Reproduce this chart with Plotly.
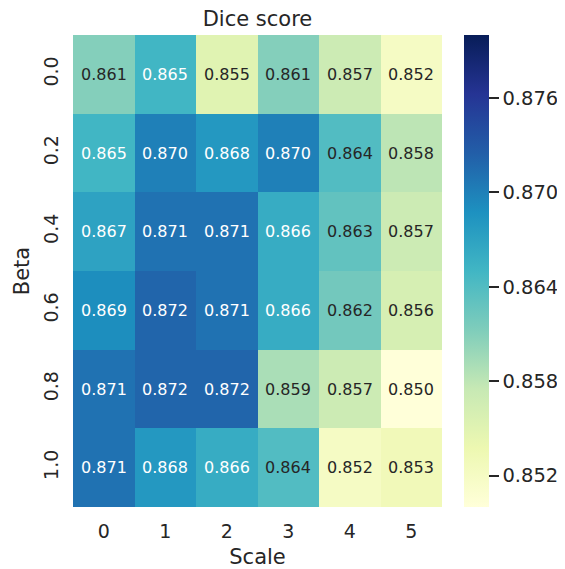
import plotly.graph_objects as go

scales = ["0", "1", "2", "3", "4", "5"]
betas = ["0.0", "0.2", "0.4", "0.6", "0.8", "1.0"]
dice = [
    [0.861, 0.865, 0.855, 0.861, 0.857, 0.852],
    [0.865, 0.870, 0.868, 0.870, 0.864, 0.858],
    [0.867, 0.871, 0.871, 0.866, 0.863, 0.857],
    [0.869, 0.872, 0.871, 0.866, 0.862, 0.856],
    [0.871, 0.872, 0.872, 0.859, 0.857, 0.850],
    [0.871, 0.868, 0.866, 0.864, 0.852, 0.853],
]
cbar_ticks = [0.852, 0.858, 0.864, 0.870, 0.876]

ylgnbu = ['rgb(255,255,217)', 'rgb(237,248,177)', 'rgb(199,233,180)',
          'rgb(127,205,187)', 'rgb(65,182,196)', 'rgb(29,145,192)',
          'rgb(34,94,168)', 'rgb(37,52,148)', 'rgb(8,29,88)']
cs = [[i / (len(ylgnbu) - 1), c] for i, c in enumerate(ylgnbu)]

FONT = "DejaVu Sans"
DARK = "#262626"
OFF = 8  # page body margin

W, H = 565, 569
L, T, R, B = 73 - OFF, 35 - OFF, 123 + OFF, 62 + OFF

fig = go.Figure()
fig.add_trace(go.Heatmap(
    z=dice, x=scales, y=betas, colorscale=cs, zmin=0.85, zmax=0.88,
    showscale=True, hoverinfo="skip",
    colorbar=dict(
        thickness=25, len=1, lenmode="fraction", x=(464 - 73) / 369, xanchor="left",
        y=0.5, yanchor="middle", outlinewidth=0, xpad=0, ypad=0,
        tickvals=cbar_ticks, ticktext=[f"{v:.3f}" for v in cbar_ticks],
        ticks="outside", ticklen=10, tickwidth=1.5, tickcolor=DARK,
        tickfont=dict(family=FONT, size=19.5, color=DARK),
    ),
))

for i, b in enumerate(betas):
    for j, s in enumerate(scales):
        v = dice[i][j]
        fig.add_annotation(
            x=j, y=i, text=f"{v:.3f}", showarrow=False,
            font=dict(family=FONT, size=16,
                      color="white" if v >= 0.8645 else DARK),
        )

fig.update_layout(
    width=W, height=H,
    margin=dict(l=L, r=R, t=T, b=B, autoexpand=False),
    paper_bgcolor="white", plot_bgcolor="white",
    title=dict(text="Dice score", x=(257.5 - OFF) / W, xanchor="center",
               y=1, yref="container", yanchor="top", pad=dict(t=3),
               font=dict(family=FONT, size=21, color=DARK)),
    xaxis=dict(type="category", automargin=False,
               title=dict(text="Scale", font=dict(family=FONT, size=21, color=DARK),
                          standoff=8),
               tickfont=dict(family=FONT, size=19, color=DARK),
               showgrid=False, zeroline=False, ticks="", ticklabelstandoff=11),
    yaxis=dict(type="category", automargin=False,
               title=dict(text="Beta", font=dict(family=FONT, size=21, color=DARK),
                          standoff=4),
               tickfont=dict(family=FONT, size=19, color=DARK),
               autorange="reversed", tickangle=-90,
               showgrid=False, zeroline=False, ticks="", ticklabelstandoff=10),
)

fig.write_html("out.html")
